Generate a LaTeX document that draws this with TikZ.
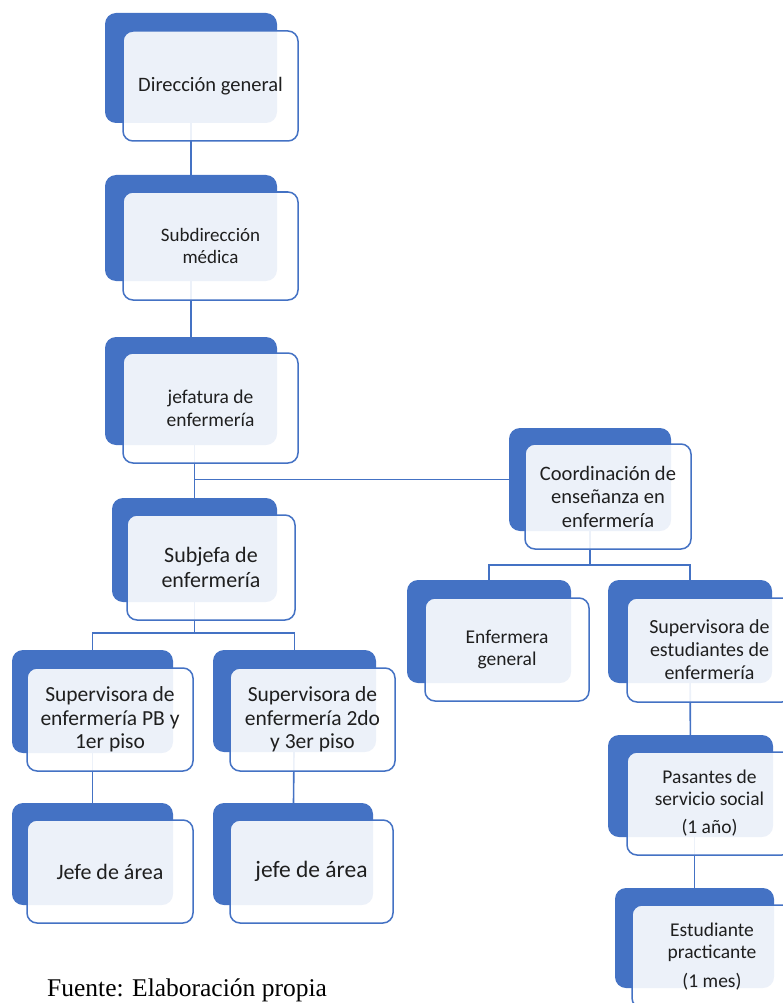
\documentclass[tikz,border=0pt]{standalone}
\usepackage{fontspec}
\setmainfont{Carlito}
\newfontfamily\capfont{Liberation Serif}
\usetikzlibrary{fit,backgrounds}
\definecolor{accblue}{HTML}{4472C4}
\definecolor{txtgray}{HTML}{1F1F1F}
\tikzset{
  backbox/.style={rectangle, rounded corners=11pt, fill=accblue, draw=none, inner sep=0pt},
  frontbox/.style={rectangle, rounded corners=10pt, fill=white, fill opacity=0.9, draw=accblue, line width=1.5pt, inner sep=0pt},
  boxlabel/.style={align=center, text=txtgray, inner sep=0pt},
  link/.style={draw=accblue, line width=1.6pt},
}
\newcommand\orgbox[8]{%
  \node[backbox, fit={#2 #3}] (#1) {};
  \node[frontbox, fit={#4 #5}] (#1f) {};
  \node[boxlabel, font=\fontsize{#6}{#7}\selectfont] (#1t) at (#1f.center) {#8};
}
\begin{document}
\begin{tikzpicture}[x=1pt, y=-1pt]
\useasboundingbox (0,0) rectangle (783,1003);
\orgbox{dir}{(105,13)}{(277,123)}{(123,31)}{(298,141)}{20.5}{23}{Dirección general}
\orgbox{sub}{(105,175)}{(277,281)}{(123,192)}{(298,300)}{19}{22}{Subdirección\\médica}
\orgbox{jef}{(105,337)}{(277,445)}{(123,353)}{(298,463)}{19.5}{23}{jefatura de\\enfermería}
\orgbox{coo}{(509,428)}{(671,531)}{(525,444)}{(691,549)}{20.5}{23.5}{Coordinación de\\enseñanza en\\enfermería}
\orgbox{sje}{(112,498)}{(277,602)}{(127,515)}{(295,620)}{22}{25}{Subjefa de\\enfermería}
\orgbox{spb}{(12,650)}{(173,753)}{(27,668)}{(193,771)}{21.5}{23.5}{Supervisora de\\enfermería PB y\\1er piso}
\orgbox{s2d}{(213,650)}{(376,752)}{(230,668)}{(395,771)}{21.5}{23.5}{Supervisora de\\enfermería 2do\\y 3er piso}
\orgbox{jaa}{(12,803)}{(173,905)}{(27,820)}{(193,923)}{22}{25}{Jefe de área}
\orgbox{jab}{(213,803)}{(373,905)}{(230,820)}{(393,923)}{23.5}{26}{jefe de área}
\orgbox{enf}{(407,580)}{(571,683)}{(425,598)}{(589,701)}{19.5}{22.5}{Enfermera\\general}
\orgbox{sest}{(608,580)}{(772,683)}{(627,598)}{(792,702)}{20}{23}{Supervisora de\\estudiantes de\\enfermería}
\orgbox{pas}{(608,735)}{(773,837)}{(627,752)}{(792,855)}{19.5}{22}{Pasantes de\\servicio social\\[6pt](1 año)}
\orgbox{est}{(615,888)}{(774,988)}{(632,905)}{(792,1008)}{19.5}{22.5}{Estudiante\\practicante\\[6pt](1 mes)}
\node[anchor=base west, inner sep=0pt, font=\capfont\fontsize{25.5}{29}\selectfont, text=black] (src) at (47,996) {Fuente: Elaboración propia};
\coordinate (busa) at (0,633);
\coordinate (busb) at (0,565);
\begin{scope}[on background layer]
  \draw[link] (dir.center) -- (sub.center);
  \draw[link] (sub.center) -- (jef.center);
  \draw[link] (sje.center |- jef.center) -- (sje.center);
  \draw[link] (sje.center |- coo.west) -- (coo.west);
  \draw[link] (sje.center) -- (sje.center |- busa);
  \draw[link] (spb.center) |- (s2d.center |- busa) -- (s2d.center);
  \draw[link] (spb.center) -- (jaa.center);
  \draw[link] (s2d.center) -- (jab.center);
  \draw[link] (coo.center) -- (coo.center |- busb);
  \draw[link] (enf.center) |- (sest.center |- busb) -- (sest.center);
  \draw[link] (sest.center) -- (pas.center);
  \draw[link] (est.center |- pas.center) -- (est.center);
\end{scope}
\end{tikzpicture}
\end{document}
